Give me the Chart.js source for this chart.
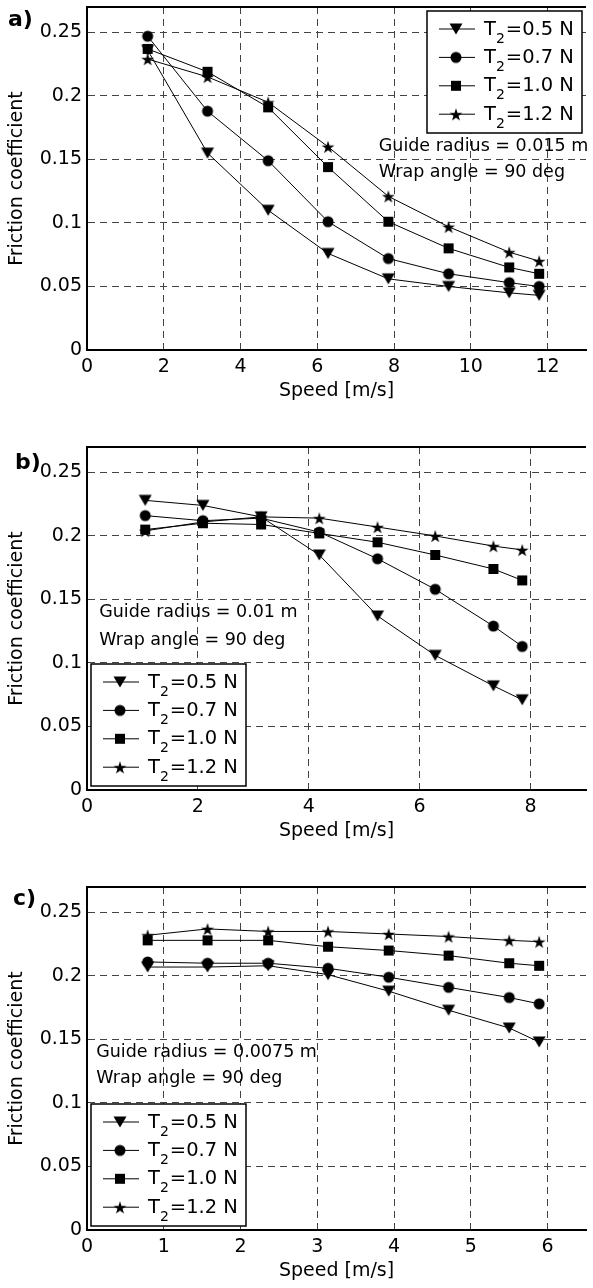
<!DOCTYPE html>
<html>
<head>
<meta charset="utf-8">
<script src="https://cdn.jsdelivr.net/npm/chart.js@4.4.1/dist/chart.umd.min.js"></script>
<style>
  html, body { margin: 0; padding: 0; background: #fff; }
  body { width: 593px; height: 1288px; position: relative; overflow: hidden; }
  .panel { position: absolute; left: 0; width: 593px; height: 408px; }
</style>
</head>
<body>
<div class="panel" style="top:0px"><canvas id="chartA" width="593" height="408"></canvas></div>
<div class="panel" style="top:440px"><canvas id="chartB" width="593" height="408"></canvas></div>
<div class="panel" style="top:880px"><canvas id="chartC" width="593" height="408"></canvas></div>
<script>
// series names (tension T2) and their marker kinds
const tensions = ['0.5', '0.7', '1.0', '1.2'];
const markerKinds = ['triangle', 'circle', 'square', 'star'];

// shared y ticks
const yTicks = [0, 0.05, 0.1, 0.15, 0.2, 0.25];
const yTickLabels = ['0', '0.05', '0.1', '0.15', '0.2', '0.25'];

// a) guide radius 0.015 m
const speedA = [1.58, 3.14, 4.72, 6.28, 7.85, 9.42, 11.0, 11.78];
const muA_05 = [0.236, 0.155, 0.110, 0.076, 0.056, 0.050, 0.045, 0.043];
const muA_07 = [0.247, 0.188, 0.149, 0.101, 0.072, 0.060, 0.053, 0.050];
const muA_10 = [0.237, 0.219, 0.191, 0.144, 0.101, 0.080, 0.065, 0.060];
const muA_12 = [0.229, 0.215, 0.195, 0.160, 0.121, 0.097, 0.077, 0.070];
const xTicksA = [0, 2, 4, 6, 8, 10, 12];
const notesA = ['Guide radius = 0.015 m', 'Wrap angle = 90 deg'];

// b) guide radius 0.01 m
const speedB = [1.05, 2.09, 3.14, 4.19, 5.24, 6.28, 7.33, 7.85];
const muB_05 = [0.228, 0.224, 0.215, 0.185, 0.137, 0.106, 0.082, 0.071];
const muB_07 = [0.216, 0.212, 0.214, 0.203, 0.182, 0.158, 0.129, 0.113];
const muB_10 = [0.205, 0.210, 0.209, 0.202, 0.195, 0.185, 0.174, 0.165];
const muB_12 = [0.204, 0.211, 0.215, 0.214, 0.207, 0.200, 0.192, 0.189];
const xTicksB = [0, 2, 4, 6, 8];
const notesB = ['Guide radius = 0.01 m', 'Wrap angle = 90 deg'];

// c) guide radius 0.0075 m
const speedC = [0.79, 1.57, 2.36, 3.14, 3.93, 4.71, 5.50, 5.89];
const muC_05 = [0.207, 0.207, 0.208, 0.201, 0.188, 0.173, 0.159, 0.148];
const muC_07 = [0.211, 0.210, 0.210, 0.206, 0.199, 0.191, 0.183, 0.178];
const muC_10 = [0.228, 0.228, 0.228, 0.223, 0.220, 0.216, 0.210, 0.208];
const muC_12 = [0.232, 0.237, 0.235, 0.235, 0.233, 0.231, 0.228, 0.227];
const xTicksC = [0, 1, 2, 3, 4, 5, 6];
const notesC = ['Guide radius = 0.0075 m', 'Wrap angle = 90 deg'];

const FONT = 'DejaVu Sans';
Chart.defaults.font.family = FONT;
Chart.defaults.color = '#000';

// filled marker images (Chart.js has no filled star / down triangle)
function makeMarker(kind) {
  const c = document.createElement('canvas');
  c.width = 16; c.height = 16;
  const g = c.getContext('2d');
  const m = 8;
  g.fillStyle = '#000';
  g.beginPath();
  if (kind === 'triangle') {
    g.moveTo(m - 6.5, m - 5.5); g.lineTo(m + 6.5, m - 5.5); g.lineTo(m, m + 5.5);
  } else if (kind === 'circle') {
    g.arc(m, m, 5.5, 0, Math.PI * 2);
  } else if (kind === 'square') {
    g.rect(m - 5, m - 5, 10, 10);
  } else {
    for (let i = 0; i < 10; i++) {
      const r = i % 2 ? 2.6 : 6.8;
      const ang = -Math.PI / 2 + i * Math.PI / 5;
      const px = m + r * Math.cos(ang), py = m + 0.8 + r * Math.sin(ang);
      if (i === 0) g.moveTo(px, py); else g.lineTo(px, py);
    }
  }
  g.closePath();
  g.fill();
  return c;
}
const markers = markerKinds.map(makeMarker);

// top frame line, panel letter, text notes and the T2 legend box
const panelDeco = {
  id: 'panelDeco',
  beforeDatasetsDraw(chart) {
    const { ctx, chartArea: a } = chart;
    ctx.save();
    ctx.strokeStyle = '#000';
    ctx.lineWidth = 2;
    ctx.beginPath();
    ctx.moveTo(a.left, a.top);
    ctx.lineTo(a.right, a.top);
    ctx.stroke();
    ctx.restore();
  },
  afterDraw(chart, args, opts) {
    const { ctx, chartArea: a, scales: { x, y } } = chart;
    ctx.save();
    ctx.fillStyle = '#000';
    ctx.textAlign = 'left';

    ctx.font = 'bold 22px "' + FONT + '"';
    ctx.textBaseline = 'middle';
    ctx.fillText(opts.letter, opts.letterX, opts.letterY);

    ctx.font = '17.5px "' + FONT + '"';
    opts.notes.forEach((t, i) => {
      ctx.fillText(t, x.getPixelForValue(opts.noteX), y.getPixelForValue(opts.noteY[i]));
    });

    // legend
    const w = 155, h = 122;
    const bx = opts.legend === 'ne' ? a.right - 4 - w : a.left + 4;
    const by = opts.legend === 'ne' ? a.top + 4 : a.bottom - 4 - h;
    ctx.fillStyle = '#fff';
    ctx.fillRect(bx, by, w, h);
    ctx.strokeStyle = '#000';
    ctx.lineWidth = 1.5;
    ctx.strokeRect(bx, by, w, h);
    ctx.fillStyle = '#000';
    ctx.textBaseline = 'alphabetic';
    chart.data.datasets.forEach((ds, i) => {
      const ly = by + 18 + i * 28.4;
      ctx.lineWidth = 1;
      ctx.beginPath();
      ctx.moveTo(bx + 12, ly);
      ctx.lineTo(bx + 48, ly);
      ctx.stroke();
      const img = ds.pointStyle;
      ctx.drawImage(img, bx + 29 - img.width / 2, ly - img.height / 2);
      let tx = bx + 57;
      ctx.font = '19.5px "' + FONT + '"';
      ctx.fillText('T', tx, ly + 5.5);
      tx += ctx.measureText('T').width;
      ctx.font = '14px "' + FONT + '"';
      ctx.fillText('2', tx, ly + 13.5);
      tx += ctx.measureText('2').width + 1;
      ctx.font = '19.5px "' + FONT + '"';
      ctx.fillText('=' + tensions[i] + ' N', tx, ly + 5.5);
    });
    ctx.restore();
  }
};

function buildChart(id, cfg) {
  const gridOpts = { color: '#444', lineWidth: 1, drawTicks: false };
  const borderOpts = { display: true, color: '#000', width: 2, dash: [7, 5] };
  const tickFont = { family: FONT, size: 19 };
  const titleFont = { family: FONT, size: 19 };
  new Chart(document.getElementById(id), {
    type: 'line',
    data: {
      datasets: cfg.series.map((ys, i) => ({
        label: 'T2=' + tensions[i] + ' N',
        data: cfg.speed.map((s, j) => ({ x: s, y: ys[j] })),
        borderColor: '#000',
        backgroundColor: '#000',
        borderWidth: 1,
        pointStyle: markers[i],
        pointRadius: 6,
        pointHoverRadius: 6,
        tension: 0,
        fill: false
      }))
    },
    options: {
      responsive: false,
      animation: false,
      events: [],
      layout: { padding: { top: 7, left: 0, right: 0, bottom: 0 } },
      plugins: {
        legend: { display: false },
        tooltip: { enabled: false },
        panelDeco: cfg.deco
      },
      scales: {
        x: {
          type: 'linear',
          min: 0,
          max: cfg.xMax,
          afterBuildTicks: s => { s.ticks = cfg.xTicks.map(v => ({ value: v })); },
          afterFit: s => { s.height = 58; s.paddingLeft = 0; s.paddingRight = 0; },
          ticks: { font: tickFont, padding: 6, maxRotation: 0, callback: v => String(v) },
          grid: gridOpts,
          border: borderOpts,
          title: { display: true, text: 'Speed [m/s]', font: titleFont, padding: { top: 0, bottom: 6 } }
        },
        y: {
          type: 'linear',
          min: 0,
          max: 0.27,
          afterBuildTicks: s => { s.ticks = yTicks.map(v => ({ value: v })); },
          afterFit: s => { s.width = 87; s.paddingTop = 0; s.paddingBottom = 0; },
          ticks: { font: tickFont, padding: 5, callback: v => yTickLabels[yTicks.indexOf(v)] },
          grid: gridOpts,
          border: borderOpts,
          title: { display: true, text: 'Friction coefficient', font: titleFont, padding: { top: 6, bottom: 0 } }
        }
      }
    },
    plugins: [panelDeco]
  });
}

buildChart('chartA', {
  speed: speedA, series: [muA_05, muA_07, muA_10, muA_12], xMax: 13, xTicks: xTicksA,
  deco: { letter: 'a)', letterX: 8, letterY: 20, notes: notesA, noteX: 7.6, noteY: [0.16, 0.14], legend: 'ne' }
});
buildChart('chartB', {
  speed: speedB, series: [muB_05, muB_07, muB_10, muB_12], xMax: 9, xTicks: xTicksB,
  deco: { letter: 'b)', letterX: 15, letterY: 23, notes: notesB, noteX: 0.22, noteY: [0.14, 0.118], legend: 'sw' }
});
buildChart('chartC', {
  speed: speedC, series: [muC_05, muC_07, muC_10, muC_12], xMax: 6.5, xTicks: xTicksC,
  deco: { letter: 'c)', letterX: 13, letterY: 19, notes: notesC, noteX: 0.12, noteY: [0.14, 0.119], legend: 'sw' }
});
</script>
</body>
</html>
